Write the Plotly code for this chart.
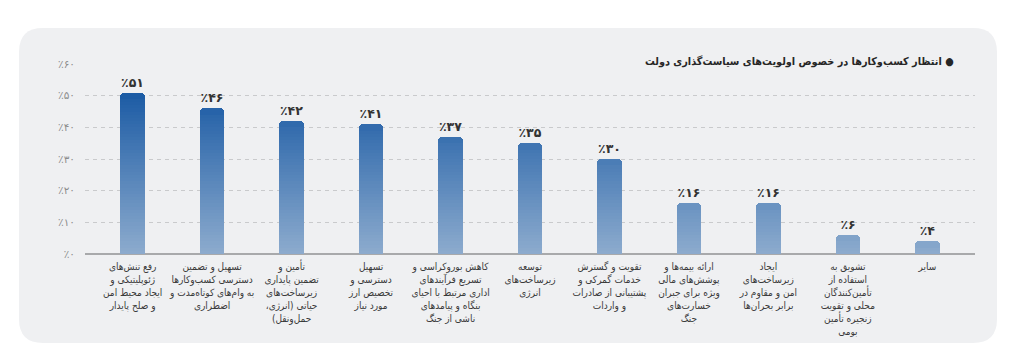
import plotly.graph_objects as go

# ---------------- data ----------------
categories = [
    "رفع تنش‌های\nژئوپلیتیکی و\nایجاد محیط امن\nو صلح پایدار",
    "تسهیل و تضمین\nدسترسی کسب‌وکارها\nبه وام‌های کوتاه‌مدت و\nاضطراری",
    "تأمین و\nتضمین پایداری\nزیرساخت‌های\nحیاتی (انرژی،\nحمل‌ونقل)",
    "تسهیل\nدسترسی و\nتخصیص ارز\nمورد نیاز",
    "کاهش بوروکراسی و\nتسریع فرآیندهای\nاداری مرتبط با احیای\nبنگاه و پیامدهای\nناشی از جنگ",
    "توسعه\nزیرساخت‌های\nانرژی",
    "تقویت و گسترش\nخدمات گمرکی و\nپشتیبانی از صادرات\nو واردات",
    "ارائه بیمه‌ها و\nپوشش‌های مالی\nویژه برای جبران\nخسارت‌های\nجنگ",
    "ایجاد\nزیرساخت‌های\nامن و مقاوم در\nبرابر بحران‌ها",
    "تشویق به\nاستفاده از\nتأمین‌کنندگان\nمحلی و تقویت\nزنجیره تأمین\nبومی",
    "سایر",
]
values = [51, 46, 42, 41, 37, 35, 30, 16, 16, 6, 4]
y_ticks = [0, 10, 20, 30, 40, 50, 60]
title_text = "انتظار کسب‌وکارها در خصوص اولویت‌های سیاست‌گذاری دولت"

# ---------------- helpers ----------------
FA_DIGITS = str.maketrans("0123456789", "۰۱۲۳۴۵۶۷۸۹")
RLM = "\u200f"


def fa_pct(n):
    return "٪" + str(n).translate(FA_DIGITS)


def rtl_label(label):
    return "<br>".join(RLM + line + RLM for line in label.split("\n"))


TOP_RGB = (26, 90, 164)
BOT_RGB = (142, 172, 206)


def grad_color(v):
    t = max(0.0, min(v / 52.0, 1.0))
    r, g, b = (round(BOT_RGB[i] + (TOP_RGB[i] - BOT_RGB[i]) * t) for i in range(3))
    return f"rgb({r},{g},{b})"


FONT = "DejaVu Sans, Noto Sans, sans-serif"
FONT_C = "DejaVu Sans Condensed, DejaVu Sans, sans-serif"
x = list(range(len(categories)))
BAR_W = 0.31

fig = go.Figure()

# full bars (rounded tops, labels)
fig.add_trace(go.Bar(
    x=x, y=values, width=BAR_W,
    marker=dict(color=[grad_color(v) for v in values], cornerradius=4, line_width=0),
    text=[fa_pct(v) for v in values],
    textposition="outside",
    textfont=dict(family=FONT, size=12.5, color="#333333", weight="bold"),
    cliponaxis=False,
    hoverinfo="skip",
    showlegend=False,
))

# gradient layers (overlay, lighter toward the base)
for t in range(max(values) - 2, 0, -1):
    ys = [t if v - t >= 2 else None for v in values]
    if all(y is None for y in ys):
        continue
    fig.add_trace(go.Bar(
        x=x, y=ys, width=BAR_W,
        marker=dict(color=grad_color(t), line_width=0),
        hoverinfo="skip", showlegend=False,
    ))

# ---------------- layout geometry ----------------
W, H = 1024, 360
ML, MR, MT, MB = 85, 49, 64, 106
PW, PH = W - ML - MR, H - MT - MB


def paper(px, py):
    return (px - ML) / PW, (H - MB - py) / PH


def rounded_rect(x0, y0, x1, y1, r):
    pts = [
        ("M", [(x0 + r, y0)]),
        ("L", [(x1 - r, y0)]),
        ("Q", [(x1, y0), (x1, y0 + r)]),
        ("L", [(x1, y1 - r)]),
        ("Q", [(x1, y1), (x1 - r, y1)]),
        ("L", [(x0 + r, y1)]),
        ("Q", [(x0, y1), (x0, y1 - r)]),
        ("L", [(x0, y0 + r)]),
        ("Q", [(x0, y0), (x0 + r, y0)]),
    ]
    out = []
    for cmd, ps in pts:
        out.append(cmd + " " + " ".join("%.5f,%.5f" % paper(*p) for p in ps))
    return " ".join(out) + " Z"


PANEL = "#eff0f2"

fig.update_layout(
    width=W, height=H, autosize=False,
    margin=dict(l=ML, r=MR, t=MT, b=MB, pad=0),
    paper_bgcolor="white",
    plot_bgcolor="rgba(0,0,0,0)",
    barmode="overlay",
    bargap=0,
    font=dict(family=FONT, color="#333333"),
    shapes=[dict(
        type="path", xref="paper", yref="paper", layer="below",
        path=rounded_rect(19, 28, 997, 343, 24),
        fillcolor=PANEL, line=dict(width=0),
    )],
    annotations=[dict(
        xref="paper", yref="paper",
        x=paper(958, 0)[0], y=paper(0, 62)[1],
        xanchor="right", yanchor="middle",
        text="<b>" + RLM + title_text + RLM + " ●</b>",
        showarrow=False,
        font=dict(family=FONT_C, size=10.8, color="#262626"),
        bgcolor=PANEL, borderpad=3,
    )],
)

fig.update_xaxes(
    range=[-0.6, len(categories) - 1 + 0.6],
    tickmode="array", tickvals=x,
    ticktext=[rtl_label(c) for c in categories],
    tickfont=dict(family=FONT_C, size=10, color="#3a3a3a"),
    tickangle=0,
    automargin=False,
    ticklabelstandoff=5,
    showgrid=False, zeroline=False, showline=False, ticks="",
    fixedrange=True,
)
fig.update_yaxes(
    range=[0, 60.05],
    tickmode="array", tickvals=y_ticks,
    ticktext=[fa_pct(v) for v in y_ticks],
    tickfont=dict(family=FONT, size=10.5, color="#8c8c8c"),
    ticklabelstandoff=9,
    automargin=False,
    showgrid=True, gridcolor="#c9cacc", gridwidth=1, griddash="4px,4px",
    zeroline=True, zerolinecolor="#a8a9ab", zerolinewidth=2,
    showline=False, ticks="",
    fixedrange=True,
)

fig.write_html(
    "out.html",
    config={"displayModeBar": False},
    post_script="document.body.style.margin='0';document.documentElement.style.overflow='hidden';",
)
